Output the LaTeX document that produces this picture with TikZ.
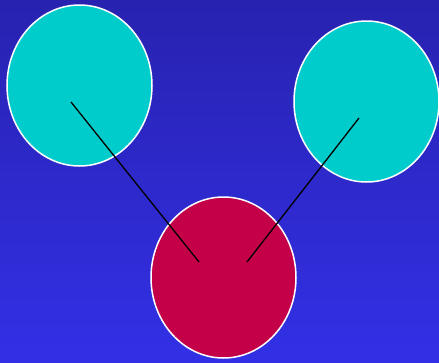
\documentclass[tikz,border=0pt]{standalone}
\usetikzlibrary{shapes.geometric}
\definecolor{bgtop}{RGB}{40,34,176}
\definecolor{bgbot}{RGB}{50,48,230}
\definecolor{cyanfill}{RGB}{0,204,204}
\definecolor{redfill}{RGB}{196,0,72}
\begin{document}
\begin{tikzpicture}[x=1pt,y=-1pt,
  blob/.style={ellipse, draw=white, line width=1.5pt, minimum width=145pt, minimum height=161pt, inner sep=0pt},
  link/.style={draw=black, line width=1.3pt}]
\shade[top color=bgtop, bottom color=bgbot] (0,0) rectangle (439,362);
\useasboundingbox (0,0) rectangle (439,362);
\node[blob, fill=cyanfill] (tl) at (79.5,85.5) {};
\node[blob, fill=cyanfill] (tr) at (366.5,101.5) {};
\node[blob, fill=redfill] (bt) at (223.5,277.5) {};
\coordinate (a1) at (71,102);
\coordinate (a2) at (199,262);
\coordinate (b1) at (359,118);
\coordinate (b2) at (247,262);
\draw[link] (a1) -- (a2);
\draw[link] (b1) -- (b2);
\end{tikzpicture}
\end{document}
